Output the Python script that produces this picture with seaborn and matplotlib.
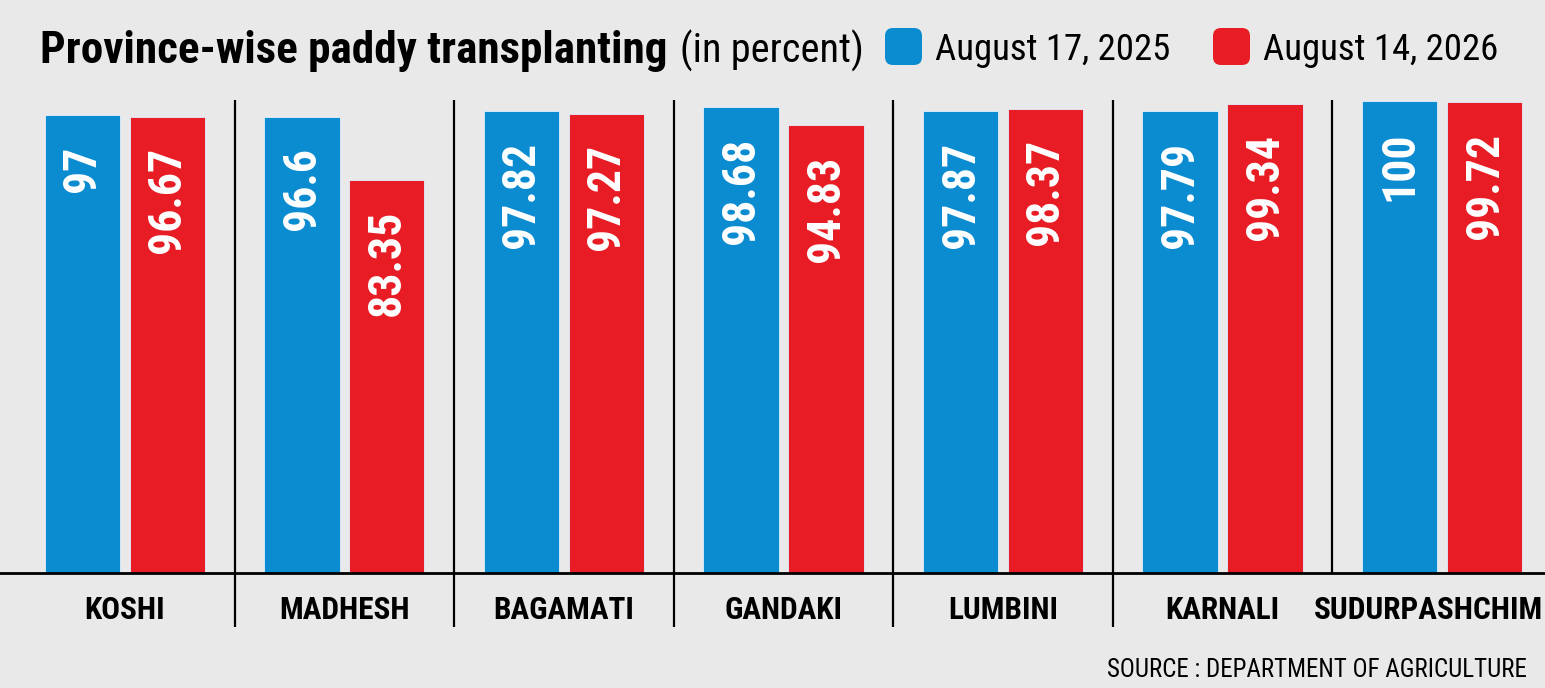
# Province-wise paddy transplanting - grouped bar chart

import seaborn as sns
import matplotlib.pyplot as plt
import matplotlib.transforms as mtransforms
import pandas as pd
from matplotlib.patches import FancyBboxPatch
from matplotlib.transforms import IdentityTransform

provinces = ["KOSHI", "MADHESH", "BAGAMATI", "GANDAKI", "LUMBINI", "KARNALI", "SUDURPASHCHIM"]
series_names = ["August 17, 2025", "August 14, 2026"]
values_2025 = [97, 96.6, 97.82, 98.68, 97.87, 97.79, 100]
values_2026 = [96.67, 83.35, 97.27, 94.83, 98.37, 99.34, 99.72]

blue = "#0b8bd0"
red = "#e81c24"
bg = "#e9e9e9"

df = pd.DataFrame({
    "province": provinces * 2,
    "date": [series_names[0]] * len(provinces) + [series_names[1]] * len(provinces),
    "value": values_2025 + values_2026,
})

sns.set_style("white")
plt.rcParams["font.family"] = ["Roboto Condensed", "DejaVu Sans"]
plt.rcParams["text.color"] = "black"

fig = plt.figure(figsize=(15.45, 6.88), dpi=100)
fig.patch.set_facecolor(bg)
ax = fig.add_axes([0, 115 / 688, 1, 472 / 688])
ax.set_facecolor(bg)

sns.barplot(data=df, x="province", y="value", hue="date", palette=[blue, red],
            width=0.774, gap=0.116, saturation=1, legend=False, ax=ax,
            edgecolor="#dff2ff", linewidth=0.6)

ax.set_xlim(-0.569, 6.469)
ax.set_ylim(0, 100)

# value labels inside the bars
for cont in ax.containers:
    for bar in cont:
        h = bar.get_height()
        ax.text(bar.get_x() + bar.get_width() / 2, h - 6.4, f"{h:g}",
                rotation=90, ha="center", va="top", color="white",
                fontsize=33, fontweight="bold")

# separators between provinces (the last one stops at the baseline)
for i in range(len(provinces) - 1):
    y0 = -11.44 if i < len(provinces) - 2 else 0
    ax.vlines(i + 0.5, y0, 100.2, color="black", lw=1.6, clip_on=False)

for s in ["top", "left", "right"]:
    ax.spines[s].set_visible(False)
ax.spines["bottom"].set_color("black")
ax.spines["bottom"].set_linewidth(2)

ax.set_yticks([])
ax.set_xlabel("")
ax.set_ylabel("")
ax.tick_params(axis="x", length=0, pad=16)
labels = ax.get_xticklabels()
for lbl in labels:
    lbl.set_fontsize(22.5)
    lbl.set_fontweight("bold")
    lbl.set_color("black")
# last label sits a little to the left so it fits the edge
labels[-1].set_transform(labels[-1].get_transform() +
                         mtransforms.ScaledTranslation(-10 / 72, 0, fig.dpi_scale_trans))

# title
t1 = fig.text(40 / 1545, (688 - 63) / 688, "Province-wise paddy transplanting",
              fontsize=32.5, fontweight="bold", va="baseline", ha="left")
fig.canvas.draw()
x_end = t1.get_window_extent().x1
fig.text((x_end + 13) / 1545, (688 - 63) / 688, "(in percent)",
         fontsize=29, va="baseline", ha="left")

# legend with rounded squares
for x0, col, name in [(885, blue, series_names[0]), (1213, red, series_names[1])]:
    box = FancyBboxPatch((x0, 688 - 65), 37, 37, boxstyle="round,pad=0,rounding_size=8",
                         transform=IdentityTransform(), facecolor=col, edgecolor="none")
    fig.patches.append(box)
    fig.text((x0 + 50) / 1545, (688 - 60) / 688, name, fontsize=26.5,
             va="baseline", ha="left")

fig.text(1527 / 1545, 11 / 688, "SOURCE : DEPARTMENT OF AGRICULTURE",
         fontsize=18, ha="right", va="baseline")

fig.savefig("out.png", dpi=100, facecolor=bg)
